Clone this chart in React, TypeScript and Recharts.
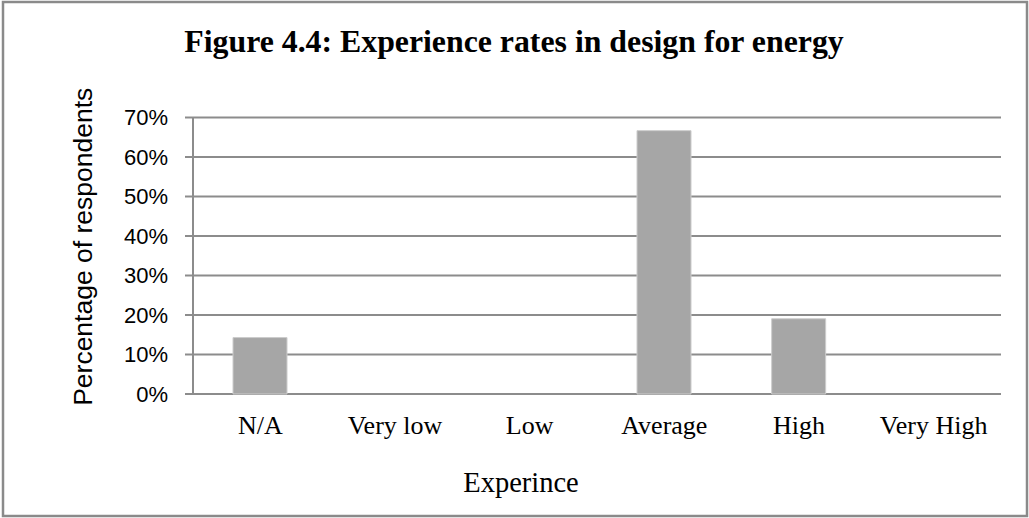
import React from "react";
import { BarChart, Bar, XAxis, YAxis, CartesianGrid } from "recharts";

const categories = ["N/A", "Very low", "Low", "Average", "High", "Very High"];
const shares = [0.1429, 0, 0, 0.6667, 0.1905, 0];
const yTicks = [0, 0.1, 0.2, 0.3, 0.4, 0.5, 0.6, 0.7];
const edgeTicks = [0, 1, 2, 3, 4, 5, 6];

const data = categories.map((name, i) => ({ name, value: shares[i] }));

const GRID = "#8c8c8c";

const YLabel = (props: any) => {
  const vb = props.viewBox || {};
  const cx = vb.x + 83;
  const cy = vb.y + vb.height / 2 - 9;
  return (
    <text
      x={cx}
      y={cy}
      transform={`rotate(-90, ${cx}, ${cy})`}
      textAnchor="middle"
      dominantBaseline="central"
      fontFamily="'Liberation Sans', Arial, sans-serif"
      fontSize={26.5}
      fill="#000"
    >
      Percentage of respondents
    </text>
  );
};

export default function App() {
  return (
    <div style={{ position: "absolute", left: 0, top: 0, width: 1029, height: 518, background: "#fff" }}>
      <BarChart
        width={1029}
        height={518}
        data={data}
        margin={{ top: 117.5, right: 28, bottom: 64, left: 0 }}
      >
        <CartesianGrid vertical={false} stroke={GRID} strokeWidth={2} />
        <XAxis
          dataKey="name"
          height={60}
          axisLine={false}
          tickLine={false}
          tickSize={8}
          tickMargin={13.5}
          interval={0}
          tick={{ fontFamily: "'Liberation Serif', 'Times New Roman', serif", fontSize: 26, fill: "#000" }}
        />
        <XAxis
          xAxisId="edge"
          type="number"
          domain={[0, 6]}
          ticks={edgeTicks}
          height={0}
          tick={false}
          tickSize={8}
          axisLine={{ stroke: GRID, strokeWidth: 2 }}
          tickLine={{ stroke: GRID, strokeWidth: 2 }}
        />
        <YAxis
          width={193}
          domain={[0, 0.7]}
          ticks={yTicks}
          interval={0}
          tickSize={8}
          tickMargin={17}
          tickFormatter={(v: number) => `${Math.round(v * 100)}%`}
          axisLine={{ stroke: GRID, strokeWidth: 2 }}
          tickLine={{ stroke: GRID, strokeWidth: 2 }}
          tick={{ fontFamily: "'Liberation Sans', Arial, sans-serif", fontSize: 22, fill: "#000" }}
          label={{ content: YLabel }}
        />
        <Bar dataKey="value" fill="#A6A6A6" stroke="#cccccc" strokeWidth={1} barSize={54} isAnimationActive={false} />
      </BarChart>
      <svg
        width={1029}
        height={518}
        style={{ position: "absolute", left: 0, top: 0, pointerEvents: "none" }}
      >
        <rect x={3} y={2} width={1024} height={514} fill="none" stroke="#8a8a8a" strokeWidth={2.5} />
        <text
          x={514}
          y={52}
          textAnchor="middle"
          fontFamily="'Liberation Serif', 'Times New Roman', serif"
          fontWeight="bold"
          fontSize={31.8}
          fill="#000"
        >
          Figure 4.4: Experience rates in design for energy
        </text>
        <text
          x={521}
          y={492}
          textAnchor="middle"
          fontFamily="'Liberation Serif', 'Times New Roman', serif"
          fontSize={28.5}
          fill="#000"
        >
          Experince
        </text>
      </svg>
    </div>
  );
}
